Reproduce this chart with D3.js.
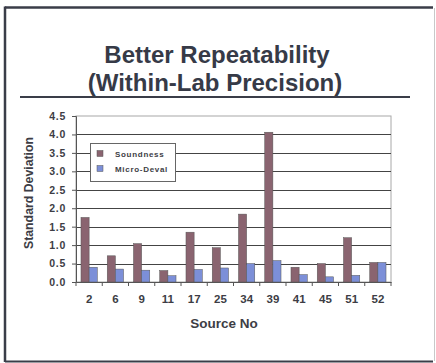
<!DOCTYPE html>
<html>
<head>
<meta charset="utf-8">
<script src="https://cdn.jsdelivr.net/npm/d3@7"></script>
<style>
  body { margin: 0; background: #fff; }
  text { font-family: "Liberation Sans", Arial, sans-serif; font-weight: bold; }
</style>
</head>
<body>
<svg id="chart" width="436" height="363"></svg>
<script>
// data
var sources = ['2', '6', '9', '11', '17', '25', '34', '39', '41', '45', '51', '52'];
var soundness = [1.75, 0.71, 1.04, 0.31, 1.35, 0.93, 1.84, 4.06, 0.40, 0.50, 1.20, 0.53];
var microDeval = [0.40, 0.35, 0.32, 0.17, 0.34, 0.38, 0.50, 0.58, 0.20, 0.14, 0.18, 0.53];
var yTicks = [0, 0.5, 1, 1.5, 2, 2.5, 3, 3.5, 4, 4.5];
var seriesNames = ['Soundness', 'Micro-Deval'];
var colors = ['#8a6470', '#7c8fd8'];

var svg = d3.select('#chart');

// slide frame: dark left/top/bottom, faint right edge
var frame = [
	{x1: 5, y1: 7.5, x2: 433, y2: 7.5, c: '#3a3d48', w: 2.5},
	{x1: 5, y1: 6.5, x2: 5, y2: 362, c: '#3a3d48', w: 2.5},
	{x1: 5, y1: 361.5, x2: 433, y2: 361.5, c: '#3a3d48', w: 2},
	{x1: 434.5, y1: 8, x2: 434.5, y2: 361, c: '#c8c8c8', w: 1}
];
svg.append('g')
	.selectAll('line')
	.data(frame)
	.enter()
	.append('line')
	.attr('x1', function(d){ return d.x1; })
	.attr('y1', function(d){ return d.y1; })
	.attr('x2', function(d){ return d.x2; })
	.attr('y2', function(d){ return d.y2; })
	.style('stroke', function(d){ return d.c; })
	.style('stroke-width', function(d){ return d.w; });

// title
var title = svg.append('text')
	.attr('text-anchor', 'middle')
	.style('font-size', '24px')
	.style('fill', '#363a47');
title.append('tspan').attr('x', 217).attr('y', 63).text('Better Repeatability');
title.append('tspan').attr('x', 215).attr('y', 91).text('(Within-Lab Precision)');

svg.append('line')
	.attr('x1', 20).attr('x2', 410)
	.attr('y1', 97).attr('y2', 97)
	.style('stroke', '#3a3d48')
	.style('stroke-width', 2);

var plotLeft = 76, plotRight = 391, plotTop = 116, plotBottom = 282;

var x = d3.scaleBand().domain(sources).range([plotLeft, plotRight]).paddingInner(0.38).paddingOuter(0.19);
var xs = d3.scaleBand().domain(seriesNames).range([0, x.bandwidth()]);
var y = d3.scaleLinear().domain([0, 4.5]).range([plotBottom, plotTop]);

// plot border (light)
svg.append('rect')
	.attr('x', plotLeft).attr('y', plotTop)
	.attr('width', plotRight - plotLeft).attr('height', plotBottom - plotTop)
	.style('fill', 'none')
	.style('stroke', '#a8a8a8')
	.style('stroke-width', 1);

// gridlines
svg.append('g')
	.selectAll('line')
	.data(yTicks.slice(1, -1))
	.enter()
	.append('line')
	.attr('x1', plotLeft).attr('x2', plotRight)
	.attr('y1', function(d){ return Math.round(y(d)) + 0.5; })
	.attr('y2', function(d){ return Math.round(y(d)) + 0.5; })
	.style('stroke', '#444')
	.style('stroke-width', 1);

// bars
var groups = svg.append('g')
	.selectAll('g')
	.data(sources)
	.enter()
	.append('g')
	.attr('transform', function(d){ return 'translate(' + x(d) + ',0)'; });

groups.selectAll('rect')
	.data(function(d, i){ return [{k: 0, v: soundness[i]}, {k: 1, v: microDeval[i]}]; })
	.enter()
	.append('rect')
	.attr('x', function(d){ return xs(seriesNames[d.k]); })
	.attr('width', xs.bandwidth())
	.attr('y', function(d){ return y(d.v); })
	.attr('height', function(d){ return y(0) - y(d.v); })
	.style('fill', function(d){ return colors[d.k]; })
	.style('stroke', '#555')
	.style('stroke-width', 0.5);

// y axis
var yAxis = svg.append('g')
	.attr('transform', 'translate(' + plotLeft + ',0)')
	.call(d3.axisLeft(y).tickValues(yTicks).tickFormat(d3.format('.1f')).tickSize(4).tickPadding(6));
yAxis.select('.domain').style('stroke', '#555');
yAxis.selectAll('line').style('stroke', '#555');
yAxis.selectAll('text')
	.style('font-size', '10.5px')
	.style('letter-spacing', '0.7px')
	.style('fill', '#3d3d45');

// x axis
var xAxis = svg.append('g')
	.attr('transform', 'translate(0,' + plotBottom + ')')
	.call(d3.axisBottom(x).tickSize(0).tickPadding(13));
xAxis.select('.domain').style('stroke', '#555');
xAxis.selectAll('text').style('font-size', '11.5px').style('fill', '#3d3d45');

// x tick marks between categories
svg.append('g')
	.selectAll('line')
	.data(d3.range(sources.length + 1))
	.enter()
	.append('line')
	.attr('x1', function(i){ return plotLeft + i * (plotRight - plotLeft) / sources.length; })
	.attr('x2', function(i){ return plotLeft + i * (plotRight - plotLeft) / sources.length; })
	.attr('y1', plotBottom).attr('y2', plotBottom + 4)
	.style('stroke', '#555');

// axis titles
svg.append('text')
	.attr('x', 224).attr('y', 328)
	.attr('text-anchor', 'middle')
	.style('font-size', '13.5px')
	.style('fill', '#3d3d45')
	.text('Source No');

svg.append('text')
	.attr('transform', 'translate(33,193) rotate(-90)')
	.attr('text-anchor', 'middle')
	.style('font-size', '12.3px')
	.style('fill', '#3d3d45')
	.text('Standard Deviation');

// legend
var legend = svg.append('g');
legend.append('rect')
	.attr('x', 90.5).attr('y', 143.5)
	.attr('width', 85).attr('height', 38)
	.style('fill', '#fff')
	.style('stroke', '#666');
legend.selectAll('g')
	.data(seriesNames)
	.enter()
	.append('g')
	.each(function(d, i){
		var g = d3.select(this);
		g.append('rect')
			.attr('x', 97).attr('y', 150.5 + i * 15)
			.attr('width', 6).attr('height', 6)
			.style('fill', colors[i])
			.style('stroke', '#555')
			.style('stroke-width', 0.5);
		g.append('text')
			.attr('x', 115).attr('y', 157 + i * 15)
			.style('font-size', '8px')
			.style('letter-spacing', '0.7px')
			.style('fill', '#3d3d45')
			.text(d);
	});
</script>
</body>
</html>
